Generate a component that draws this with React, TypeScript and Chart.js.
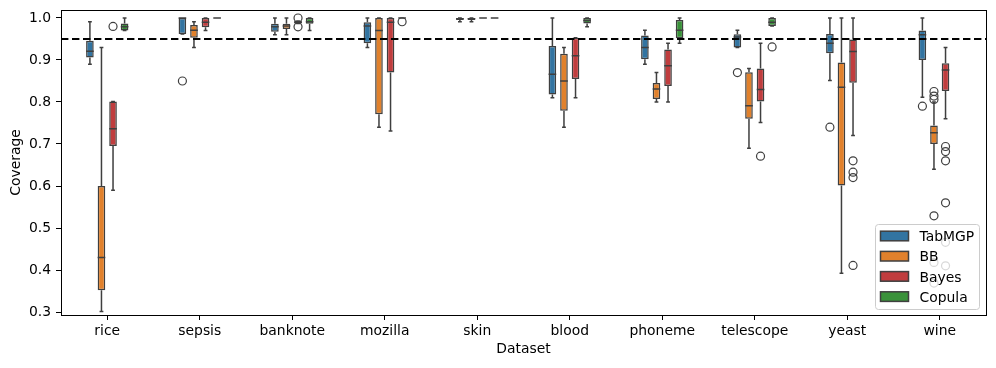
import React, { useEffect, useRef } from 'react';
import { Chart, registerables } from 'chart.js';

Chart.register(...registerables);

const categories = ['rice', 'sepsis', 'banknote', 'mozilla', 'skin', 'blood', 'phoneme', 'telescope', 'yeast', 'wine'];
const seriesNames = ['TabMGP', 'BB', 'Bayes', 'Copula'];
const yTicks = [0.3, 0.4, 0.5, 0.6, 0.7, 0.8, 0.9, 1.0];
const targetCoverage = 0.95;

// each entry: [whiskerLow, q1, median, q3, whiskerHigh]
const tabmgpStats = [
  [0.890, 0.906, 0.921, 0.946, 0.991],
  [0.962, 0.962, 1.0, 1.0, 1.0],
  [0.960, 0.967, 0.979, 0.986, 1.0],
  [0.930, 0.940, 0.981, 0.990, 1.0],
  [0.991, 0.995, 0.998, 1.0, 1.0],
  [0.810, 0.818, 0.866, 0.933, 1.0],
  [0.890, 0.902, 0.930, 0.958, 0.971],
  [0.930, 0.930, 0.955, 0.961, 0.971],
  [0.851, 0.916, 0.940, 0.962, 1.0],
  [0.811, 0.900, 0.960, 0.970, 1.0],
];
const tabmgpOutliers = [[], [0.85], [], [], [], [], [], [0.87], [0.74], [0.79]];

const bbStats = [
  [0.301, 0.352, 0.430, 0.600, 0.930],
  [0.930, 0.953, 0.971, 0.983, 0.991],
  [0.960, 0.974, 0.981, 0.986, 1.0],
  [0.740, 0.771, 0.970, 1.0, 1.0],
  [0.991, 0.995, 0.998, 1.0, 1.0],
  [0.740, 0.779, 0.850, 0.915, 0.930],
  [0.800, 0.807, 0.831, 0.845, 0.870],
  [0.690, 0.760, 0.791, 0.871, 0.880],
  [0.392, 0.601, 0.835, 0.894, 1.0],
  [0.640, 0.700, 0.727, 0.744, 0.800],
];
const bbOutliers = [[], [], [], [], [], [], [], [], [], [0.825, 0.814, 0.806, 0.529, 0.418, 0.369]];

const bayesStats = [
  [0.590, 0.695, 0.736, 0.801, 0.801],
  [0.970, 0.978, 0.990, 1.0, 1.0],
  [0.987, 0.987, 0.990, 0.993, 0.993],
  [0.731, 0.870, 0.990, 1.0, 1.0],
  [1.0, 1.0, 1.0, 1.0, 1.0],
  [0.810, 0.855, 0.910, 0.953, 0.953],
  [0.800, 0.838, 0.886, 0.925, 0.940],
  [0.751, 0.801, 0.830, 0.880, 0.940],
  [0.720, 0.846, 0.920, 0.949, 1.0],
  [0.760, 0.826, 0.876, 0.892, 0.930],
];
const bayesOutliers = [[0.98], [], [1.0, 0.979], [], [], [], [], [0.671], [0.660, 0.633, 0.620, 0.411], [0.694, 0.682, 0.660, 0.560, 0.466, 0.410]];

const copulaStats = [
  [0.970, 0.970, 0.979, 0.987, 1.0],
  [1.0, 1.0, 1.0, 1.0, 1.0],
  [0.970, 0.986, 0.991, 1.0, 1.0],
  [1.0, 1.0, 1.0, 1.0, 1.0],
  [1.0, 1.0, 1.0, 1.0, 1.0],
  [0.979, 0.987, 0.994, 1.0, 1.0],
  [0.940, 0.952, 0.971, 0.995, 1.0],
  [0.981, 0.981, 0.990, 1.0, 1.0],
  null,
  null,
];
const copulaOutliers = [[], [], [], [0.991], [], [], [], [0.931], [], []];

const seriesStats = [tabmgpStats, bbStats, bayesStats, copulaStats];
const seriesOutliers = [tabmgpOutliers, bbOutliers, bayesOutliers, copulaOutliers];

const seriesColors = ['#3274a1', '#e1812c', '#c03d3e', '#3a923a'];
const edgeColor = '#3f3f3f';
const FONT_FAMILY = "'DejaVu Sans', sans-serif";
const FONT_SIZE = 13.9;

const boxPlugin = {
  id: 'boxExtras',
  afterDatasetsDraw(chart: any) {
    const ctx = chart.ctx;
    const ys = chart.scales.y;
    const area = chart.chartArea;
    ctx.save();
    seriesStats.forEach((stats: any, di: number) => {
      const meta = chart.getDatasetMeta(di);
      stats.forEach((s: any, i: number) => {
        if (!s) return;
        const el = meta.data[i];
        if (!el) return;
        const { x, width } = el.getProps(['x', 'width'], true);
        const [lo, q1, med, q3, hi] = s;
        const capW = width / 2;
        ctx.strokeStyle = edgeColor;
        ctx.lineWidth = 1.5;
        ctx.beginPath();
        const pLo = ys.getPixelForValue(lo);
        const pQ1 = ys.getPixelForValue(q1);
        const pMed = ys.getPixelForValue(med);
        const pQ3 = ys.getPixelForValue(q3);
        const pHi = ys.getPixelForValue(hi);
        ctx.moveTo(x, pQ3);
        ctx.lineTo(x, pHi);
        ctx.moveTo(x - capW / 2, pHi);
        ctx.lineTo(x + capW / 2, pHi);
        ctx.moveTo(x, pQ1);
        ctx.lineTo(x, pLo);
        ctx.moveTo(x - capW / 2, pLo);
        ctx.lineTo(x + capW / 2, pLo);
        ctx.moveTo(x - width / 2, pMed);
        ctx.lineTo(x + width / 2, pMed);
        if (q1 === q3) {
          ctx.moveTo(x - width / 2, pQ1);
          ctx.lineTo(x + width / 2, pQ1);
        }
        ctx.stroke();
        ctx.lineWidth = 1.2;
        (seriesOutliers[di][i] || []).forEach((v: number) => {
          ctx.beginPath();
          ctx.arc(x, ys.getPixelForValue(v), 4, 0, Math.PI * 2);
          ctx.stroke();
        });
      });
    });
    // reference line
    const yRef = ys.getPixelForValue(targetCoverage);
    ctx.beginPath();
    ctx.setLineDash([7.4, 3.6]);
    ctx.strokeStyle = '#000';
    ctx.lineWidth = 1.8;
    ctx.moveTo(area.left, yRef);
    ctx.lineTo(area.right, yRef);
    ctx.stroke();
    ctx.setLineDash([]);
    // spines
    ctx.lineWidth = 1;
    ctx.strokeStyle = '#000';
    ctx.strokeRect(Math.round(area.left) + 0.5, Math.round(area.top) + 0.5, Math.round(area.right - area.left), Math.round(area.bottom - area.top));
    ctx.restore();
  },
  afterDraw(chart: any) {
    const ctx = chart.ctx;
    const area = chart.chartArea;
    ctx.save();
    const boxW = 104;
    const boxH = 85;
    const bx = area.right - 7 - boxW + 0.5;
    const by = area.bottom - 6 - boxH + 0.5;
    const r = 3;
    ctx.beginPath();
    ctx.moveTo(bx + r, by);
    ctx.lineTo(bx + boxW - r, by);
    ctx.arcTo(bx + boxW, by, bx + boxW, by + r, r);
    ctx.lineTo(bx + boxW, by + boxH - r);
    ctx.arcTo(bx + boxW, by + boxH, bx + boxW - r, by + boxH, r);
    ctx.lineTo(bx + r, by + boxH);
    ctx.arcTo(bx, by + boxH, bx, by + boxH - r, r);
    ctx.lineTo(bx, by + r);
    ctx.arcTo(bx, by, bx + r, by, r);
    ctx.closePath();
    ctx.fillStyle = 'rgba(255,255,255,0.8)';
    ctx.fill();
    ctx.strokeStyle = '#cccccc';
    ctx.lineWidth = 1;
    ctx.stroke();
    ctx.font = `${FONT_SIZE}px ${FONT_FAMILY}`;
    ctx.textBaseline = 'alphabetic';
    ctx.textAlign = 'left';
    seriesNames.forEach((name, i) => {
      const cy = by + 11.5 + i * 20.2;
      ctx.fillStyle = seriesColors[i];
      ctx.fillRect(bx + 5, cy - 4.8, 28, 9.6);
      ctx.strokeStyle = edgeColor;
      ctx.lineWidth = 1.5;
      ctx.strokeRect(bx + 5, cy - 4.8, 28, 9.6);
      ctx.fillStyle = '#000';
      ctx.fillText(name, bx + 44, cy + 5.1);
    });
    ctx.restore();
  },
};

export default function App() {
  const canvasRef = useRef<HTMLCanvasElement | null>(null);
  useEffect(() => {
    if (!canvasRef.current) return;
    const font = { family: FONT_FAMILY, size: FONT_SIZE };
    const chart = new Chart(canvasRef.current, {
      type: 'bar',
      data: {
        labels: categories,
        datasets: seriesNames.map((name, di) => ({
          label: name,
          data: seriesStats[di].map((s: any) => (s ? [s[1], s[3]] : null)),
          backgroundColor: seriesColors[di],
          borderColor: edgeColor,
          borderWidth: 1.5,
          borderSkipped: false,
          categoryPercentage: 0.5,
          barPercentage: 0.66,
        })) as any,
      },
      options: {
        responsive: false,
        animation: false,
        events: [],
        layout: { padding: { top: 10, right: 10, left: 0, bottom: 0 } },
        plugins: { legend: { display: false }, tooltip: { enabled: false } },
        scales: {
          x: {
            grid: { offset: false, drawOnChartArea: false, drawTicks: true, tickLength: 5, color: '#000' },
            border: { display: false },
            ticks: { color: '#000', font, padding: 3, maxRotation: 0, autoSkip: false },
            title: { display: true, text: 'Dataset', color: '#000', font, padding: { top: 0, bottom: 10 } },
            afterFit: (s: any) => { s.height = 53; s.paddingLeft = 0; s.paddingRight = 0; },
          },
          y: {
            min: 0.2929,
            max: 1.019,
            afterBuildTicks: (s: any) => { s.ticks = yTicks.map((v) => ({ value: v })); },
            grid: { drawOnChartArea: false, drawTicks: true, tickLength: 5, color: '#000' },
            border: { display: false },
            ticks: { color: '#000', font, padding: 5, callback: (v: any) => Number(v).toFixed(1) },
            title: { display: true, text: 'Coverage', color: '#000', font, padding: { top: 8, bottom: 0 } },
            afterFit: (s: any) => { s.width = 61; s.paddingTop = 0; s.paddingBottom = 0; },
          },
        },
      } as any,
      plugins: [boxPlugin],
    });
    return () => chart.destroy();
  }, []);
  return (
    <div style={{ position: 'absolute', left: 0, top: 0, width: 996, height: 368 }}>
      <canvas ref={canvasRef} width={996} height={368} style={{ width: 996, height: 368 }} />
    </div>
  );
}
